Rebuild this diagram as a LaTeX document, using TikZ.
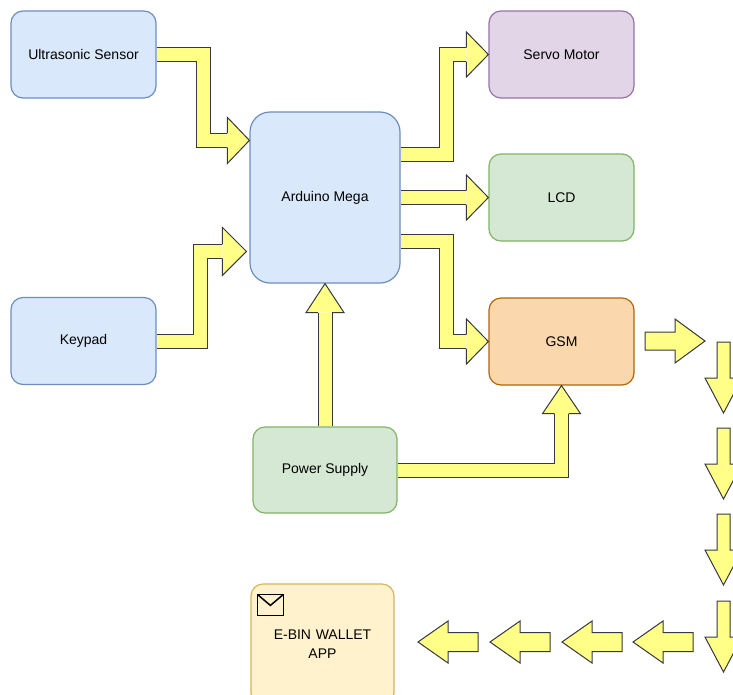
\documentclass[tikz,border=0pt]{standalone}
\usepackage{fontspec}
\setmainfont{Liberation Sans}
\usetikzlibrary{calc}
\definecolor{blueF}{HTML}{DAE8FC}\definecolor{blueS}{HTML}{6C8EBF}
\definecolor{purpF}{HTML}{E1D5E7}\definecolor{purpS}{HTML}{9673A6}
\definecolor{grnF}{HTML}{D5E8D4}\definecolor{grnS}{HTML}{82B366}
\definecolor{orgF}{HTML}{FAD7AC}\definecolor{orgS}{HTML}{B46504}
\definecolor{ylwF}{HTML}{FFF2CC}\definecolor{ylwS}{HTML}{D6B656}
\definecolor{arrF}{HTML}{FFFF88}\definecolor{arrS}{HTML}{36393D}
\tikzset{
  box/.style={draw, line width=1.2pt, rounded corners=12pt, minimum width=145pt, minimum height=87pt,
    font=\fontsize{14}{19}\selectfont, text=black, align=center, inner sep=0pt},
  bluebox/.style={box, fill=blueF, draw=blueS},
  purpbox/.style={box, fill=purpF, draw=purpS},
  grnbox/.style={box, fill=grnF, draw=grnS},
  orgbox/.style={box, fill=orgF, draw=orgS},
  ylwbox/.style={box, fill=ylwF, draw=ylwS},
  shaft/.style={draw=arrS, line width=1pt, double=arrF, double distance=13pt, line join=miter},
  pics/fhead/.style 2 args={code={
    \fill[arrF] (0,0) -- (-#1,#2) -- (-#1,-#2) -- cycle;
    \draw[arrS, line width=1pt, line join=miter] (-#1,7) -- (-#1,#2) -- (0,0) -- (-#1,-#2) -- (-#1,-7);
  }},
  pics/fblock/.style n args={4}{code={
    \draw[arrS, fill=arrF, line width=1pt, line join=miter] (0,0) -- (-#2,#3) -- (-#2,#4) -- (-#1,#4)
      -- (-#1,-#4) -- (-#2,-#4) -- (-#2,-#3) -- cycle;
  }},
}
\begin{document}
\begin{tikzpicture}[x=1pt,y=-1pt]
\clip (0,0) rectangle (733,694);
\fill[white] (0,0) rectangle (733,694);

\node[bluebox] (us) at (83.5,54.5) {Ultrasonic Sensor};
\node[bluebox] (kp) at (83.5,341) {Keypad};
\node[bluebox, rounded corners=20pt, minimum width=150pt, minimum height=171pt] (ard) at (325,197.5) {Arduino Mega};
\node[purpbox] (servo) at (561.5,54.5) {Servo Motor};
\node[grnbox] (lcd) at (561.5,197.5) {LCD};
\node[orgbox] (gsm) at (561.5,341.5) {GSM};
\node[grnbox, minimum width=144pt, minimum height=86pt] (ps) at (325,470) {Power Supply};
\node[ylwbox, minimum width=143pt, minimum height=121pt, text width=143pt] (app) at (322.5,644.5) {E-BIN WALLET\\APP};
\draw[black, line width=1.5pt, line join=miter] ($(app.north west)+(7,11)$) rectangle ($(app.north west)+(33,32)$);
\draw[black, line width=1.5pt] ($(app.north west)+(7,11)$) -- ($(app.north west)+(20,22)$) -- ($(app.north west)+(33,11)$);

% connectors
\draw[shaft, shorten >=22pt] (us.east) -- ++(47,0) |- ($(ard.north west)+(0,29)$);
\pic at ($(ard.north west)+(0,29)$) {fhead={22}{23}};

\draw[shaft, shorten >=24pt] (kp.east) -- ++(44,0) |- ($(ard.north west)+(-3,140)$);
\pic at ($(ard.north west)+(-3,140)$) {fhead={24}{24}};

\draw[shaft, shorten >=22pt] ($(ard.north east)+(0,43)$) -- ++(46,0) |- (servo.west);
\pic at (servo.west) {fhead={22}{22.5}};

\draw[shaft, shorten >=22pt] (ard.east) -- (lcd.west);
\pic at (lcd.west) {fhead={22}{22.5}};

\draw[shaft, shorten >=22pt] ($(ard.north east)+(0,130)$) -- ++(46,0) |- (gsm.west);
\pic at (gsm.west) {fhead={22}{22.5}};

\draw[shaft, shorten >=29pt] (ps.north) -- (ard.south);
\pic[rotate=90] at (ard.south) {fhead={29}{19}};

\draw[shaft, shorten >=28pt] (ps.east) -| (gsm.south);
\pic[rotate=90] at (gsm.south) {fhead={28}{19}};

% standalone block arrows
\pic at (705,341) {fblock={60}{30}{22}{9}};
\foreach \yy in {413,499,585,672} {\pic[rotate=-90] at (723.5,\yy) {fblock={71}{35}{18.5}{6.5}};}
\foreach \xx in {418,490,562,633} {\pic[rotate=180] at (\xx,642) {fblock={60}{30}{21}{9.5}};}
\end{tikzpicture}
\end{document}
